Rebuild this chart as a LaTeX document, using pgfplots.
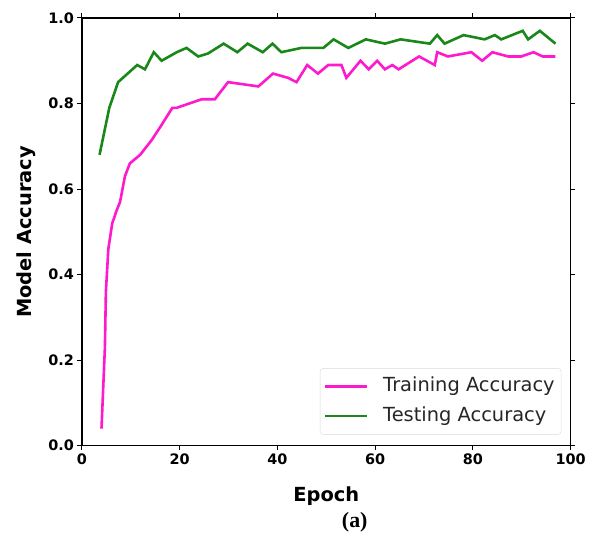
\documentclass[border=0pt]{standalone}
\usepackage{fontspec}
\usepackage{pgfplots}
\pgfplotsset{compat=1.18}
\newfontfamily\dejavu{DejaVu Sans}
\newfontfamily\libserif{Liberation Serif}
\definecolor{trainpink}{RGB}{255,25,205}
\definecolor{testgreen}{RGB}{25,135,25}
\begin{document}
\begin{tikzpicture}
\begin{axis}[
  at={(0,0)}, anchor=south west,
  scale only axis, width=489bp, height=428bp,
  xmin=0, xmax=100, ymin=0, ymax=1,
  xtick={0,20,40,60,80,100},
  ytick={0,0.2,0.4,0.6,0.8,1.0},
  tick align=outside,
  major tick length=4.5bp,
  every tick/.style={black, line width=1bp},
  axis line style={line width=1.6bp},
  /pgf/number format/assume math mode=true,
  ticklabel style={font=\dejavu\bfseries\fontsize{14.5}{16}\selectfont},
  yticklabel style={/pgf/number format/.cd, fixed, fixed zerofill, precision=1},
  xlabel={Epoch}, ylabel={Model Accuracy},
  every axis x label/.style={at={(axis description cs:0.5,0)}, yshift=-55.7bp, anchor=base, font=\dejavu\bfseries\fontsize{19.5}{22}\selectfont},
  every axis y label/.style={at={(axis description cs:0,0.5)}, xshift=-50.3bp, rotate=90, anchor=base, font=\dejavu\bfseries\fontsize{19.5}{22}\selectfont},
  legend style={font=\dejavu\fontsize{19.5}{22}\selectfont, text=black!85, at={(0.981,0.026)}, anchor=south east,
    draw=black!15, rounded corners=3bp, inner xsep=4bp, inner ysep=6.5bp, row sep=6bp, column sep=12bp,
    nodes={inner sep=2.5bp, text height=14.5bp, text depth=4bp}},
  legend cell align=left,
  legend image code/.code={\draw[#1] (0bp,0bp) -- (42bp,0bp);},
]
\addplot[trainpink, line width=2.6bp] coordinates {
(4,0.04) (4.7,0.23) (4.9,0.36) (5.4,0.46) (6.2,0.52) (7.1,0.55) (7.8,0.57) (8.8,0.63) (9.8,0.66) (11.9,0.68) (14.3,0.715) (16.3,0.75) (18.5,0.79) (19.4,0.79) (24.5,0.81) (27.2,0.81) (29.9,0.85) (36.1,0.84) (39.1,0.87) (42.2,0.86) (43.9,0.85) (46.1,0.89) (48.3,0.87) (50.4,0.89) (53.1,0.89) (54.1,0.86) (57,0.90) (58.7,0.88) (60.4,0.90) (62,0.88) (63.5,0.89) (64.8,0.88) (69,0.91) (72.2,0.89) (72.7,0.92) (74.9,0.91) (79.7,0.92) (81.9,0.90) (84,0.92) (87.2,0.91) (89.9,0.91) (92.4,0.92) (94.3,0.91) (96.9,0.91)
};
\addlegendentry{Training Accuracy}
\addplot[testgreen, line width=2.6bp] coordinates {
(3.6,0.68) (5.6,0.79) (7.4,0.85) (11.3,0.89) (12.9,0.88) (14.7,0.92) (16.3,0.90) (19.4,0.92) (21.4,0.93) (23.8,0.91) (25.8,0.917) (29,0.94) (31.8,0.92) (33.9,0.94) (37,0.92) (39,0.94) (40.8,0.92) (44.9,0.93) (49.4,0.93) (51.5,0.95) (54.5,0.93) (58.1,0.95) (62,0.94) (65.2,0.95) (71.2,0.94) (72.7,0.96) (74.2,0.94) (78.1,0.96) (82.4,0.95) (84.5,0.96) (85.8,0.95) (90.2,0.97) (91.3,0.95) (93.7,0.97) (96.9,0.94)
};
\addlegendentry{Testing Accuracy}
\end{axis}
\node[font=\libserif\bfseries\fontsize{22}{24}\selectfont, anchor=base] at (273bp,-82bp) {(a)};
\path (-82bp,-90bp) rectangle (507bp,446bp);
\end{tikzpicture}
\end{document}
